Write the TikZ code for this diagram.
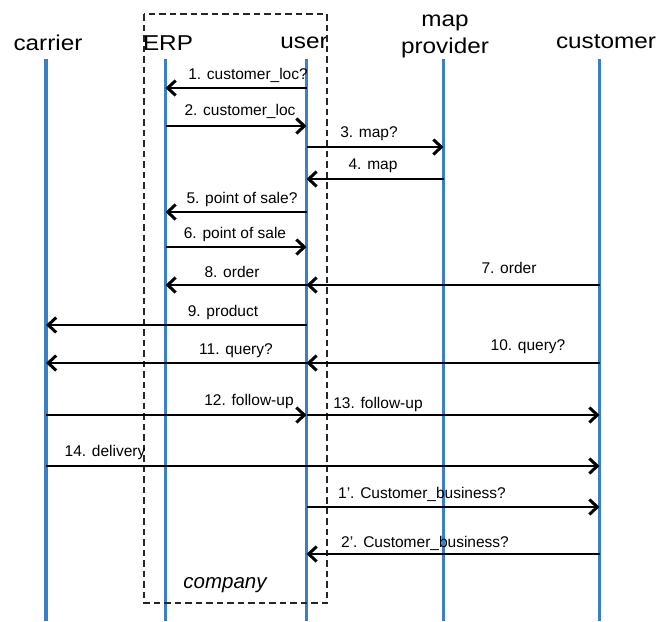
\documentclass[tikz,border=0pt]{standalone}
\usepackage{fontspec}
\setmainfont{Liberation Sans}
\usetikzlibrary{arrows.meta}
\definecolor{lifeblue}{RGB}{58,128,198}
\begin{document}
\begin{tikzpicture}[x=1pt,y=-1pt,
 lifeline/.style={draw=lifeblue,line width=3.4pt},
 msg/.style={draw=black,line width=2.4pt,-{Straight Barb[length=8pt,width=15pt,line width=3pt]}},
 hdr/.style={font=\fontsize{21.5}{26}\selectfont,anchor=base,inner sep=0pt},
 lbl/.style={font=\fontsize{15.5}{18}\selectfont,anchor=base,inner sep=0pt},
 grp/.style={draw=black!85,line width=2.2pt,dash pattern=on 6.5pt off 4pt},
]
\useasboundingbox (0,0) rectangle (669,621);
% headers
\node[hdr] (hcar) at (48,50) {\scalebox{1.13}[1]{carrier}};
\node[hdr] (herp) at (168,50) {\scalebox{1.13}[1]{ERP}};
\node[hdr] (husr) at (304,48) {\scalebox{1.13}[1]{user}};
\node[hdr] (hmap) at (445,26) {\scalebox{1.13}[1]{map}};
\node[hdr] (hprv) at (445,53) {\scalebox{1.13}[1]{provider}};
\node[hdr] (hcus) at (606,48) {\scalebox{1.13}[1]{customer}};
% lifelines
\coordinate (carT) at (46,59);    \coordinate (carB) at (46,621);
\coordinate (erpT) at (165.5,59); \coordinate (erpB) at (165.5,621);
\coordinate (usrT) at (306.5,59); \coordinate (usrB) at (306.5,621);
\coordinate (mapT) at (443.5,59); \coordinate (mapB) at (443.5,621);
\coordinate (cusT) at (599.5,59); \coordinate (cusB) at (599.5,621);
\draw[lifeline] (carT) -- (carB);
\draw[lifeline] (erpT) -- (erpB);
\draw[lifeline] (usrT) -- (usrB);
\draw[lifeline] (mapT) -- (mapB);
\draw[lifeline] (cusT) -- (cusB);
% company box
\coordinate (boxA) at (144,14);
\coordinate (boxB) at (327,603);
\draw[grp] (boxA) rectangle (boxB);
\node[font=\fontsize{20.5}{24}\selectfont\itshape,anchor=base,inner sep=0pt] (comp) at (225,588) {company};
% message points
\coordinate (u1) at (306.5,88);  \coordinate (e1) at (165.5,88);
\coordinate (e2) at (165.5,126); \coordinate (u2) at (306.5,126);
\coordinate (u3) at (306.5,147); \coordinate (m3) at (443.5,147);
\coordinate (m4) at (443.5,179); \coordinate (u4) at (306.5,179);
\coordinate (u5) at (306.5,212); \coordinate (e5) at (165.5,212);
\coordinate (e6) at (165.5,247); \coordinate (u6) at (306.5,247);
\coordinate (c7) at (599.5,285); \coordinate (u7) at (306.5,285);
\coordinate (e8) at (165.5,285);
\coordinate (u9) at (306.5,325); \coordinate (k9) at (46,325);
\coordinate (c10) at (599.5,363); \coordinate (u10) at (306.5,363);
\coordinate (k11) at (46,363);
\coordinate (k12) at (46,415); \coordinate (u12) at (306.5,415);
\coordinate (c13) at (599.5,415);
\coordinate (k14) at (46,466); \coordinate (c14) at (599.5,466);
\coordinate (u15) at (306.5,507); \coordinate (c15) at (599.5,507);
\coordinate (c16) at (599.5,554); \coordinate (u16) at (306.5,554);
% messages
\draw[msg] (u1) -- (e1);
\draw[msg] (e2) -- (u2);
\draw[msg] (u3) -- (m3);
\draw[msg] (m4) -- (u4);
\draw[msg] (u5) -- (e5);
\draw[msg] (e6) -- (u6);
\draw[msg] (c7) -- (u7);
\draw[msg] (u7) -- (e8);
\draw[msg] (u9) -- (k9);
\draw[msg] (c10) -- (u10);
\draw[msg] (u10) -- (k11);
\draw[msg] (k12) -- (u12);
\draw[msg] (u12) -- (c13);
\draw[msg] (k14) -- (c14);
\draw[msg] (u15) -- (c15);
\draw[msg] (c16) -- (u16);
% labels
\node[lbl] (l1) at (248,79) {1. customer\_loc?};
\node[lbl] (l2) at (240,115) {2. customer\_loc};
\node[lbl] (l3) at (369,137) {3. map?};
\node[lbl] (l4) at (373,169) {4. map};
\node[lbl] (l5) at (242,203) {5. point of sale?};
\node[lbl] (l6) at (235,238) {6. point of sale};
\node[lbl] (l7) at (509,273) {7. order};
\node[lbl] (l8) at (232,277) {8. order};
\node[lbl] (l9) at (223,316) {9. product};
\node[lbl] (l10) at (528,350) {10. query?};
\node[lbl] (l11) at (236,354) {11. query?};
\node[lbl] (l12) at (249,405) {12. follow-up};
\node[lbl] (l13) at (378,408) {13. follow-up};
\node[lbl] (l14) at (105,456) {14. delivery};
\node[lbl] (l15) at (422,498) {1'. Customer\_business?};
\node[lbl] (l16) at (425,547) {2'. Customer\_business?};
\end{tikzpicture}
\end{document}
